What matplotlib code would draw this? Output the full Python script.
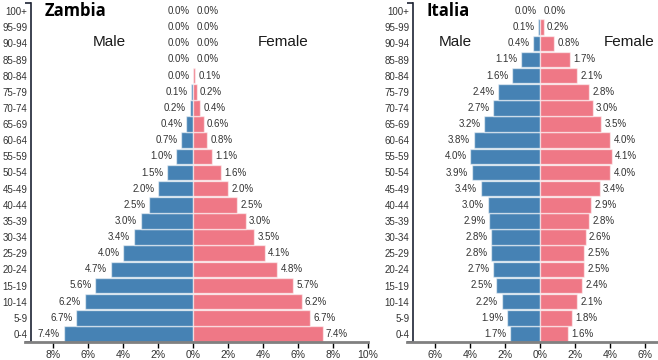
import matplotlib.pyplot as plt
import numpy as np

# age groups, bottom to top
ages = ['0-4', '5-9', '10-14', '15-19', '20-24', '25-29', '30-34', '35-39',
        '40-44', '45-49', '50-54', '55-59', '60-64', '65-69', '70-74',
        '75-79', '80-84', '85-89', '90-94', '95-99', '100+']

# Zambia, % of population
zambia_male = [7.4, 6.7, 6.2, 5.6, 4.7, 4.0, 3.4, 3.0, 2.5, 2.0, 1.5,
               1.0, 0.7, 0.4, 0.2, 0.1, 0.0, 0.0, 0.0, 0.0, 0.0]
zambia_female = [7.4, 6.7, 6.2, 5.7, 4.8, 4.1, 3.5, 3.0, 2.5, 2.0, 1.6,
                 1.1, 0.8, 0.6, 0.4, 0.2, 0.1, 0.0, 0.0, 0.0, 0.0]

# Italia, % of population
italia_male = [1.7, 1.9, 2.2, 2.5, 2.7, 2.8, 2.8, 2.9, 3.0, 3.4, 3.9,
               4.0, 3.8, 3.2, 2.7, 2.4, 1.6, 1.1, 0.4, 0.1, 0.0]
italia_female = [1.6, 1.8, 2.1, 2.4, 2.5, 2.5, 2.6, 2.8, 2.9, 3.4, 4.0,
                 4.1, 4.0, 3.5, 3.0, 2.8, 2.1, 1.7, 0.8, 0.2, 0.0]

zambia_ticks = [-8, -6, -4, -2, 0, 2, 4, 6, 8, 10]
italia_ticks = [-6, -4, -2, 0, 2, 4, 6]

BLUE = '#4682b4'
PINK = '#ef7886'
TXT = '#333333'

plt.rcParams['font.family'] = ['Liberation Sans', 'DejaVu Sans']

W, H = 658, 360
fig = plt.figure(figsize=(W / 100, H / 100), dpi=100)


def pyramid(ax, title, male, female, ticks, xlim, title_x, male_x, female_x):
    y = np.arange(len(ages))
    m = np.array(male)
    f = np.array(female)
    ax.barh(y, -m, height=0.96, color=BLUE, edgecolor=(1, 1, 1, 0.55), linewidth=1)
    ax.barh(y, f, height=0.96, color=PINK, edgecolor=(1, 1, 1, 0.55), linewidth=1)

    for yi, v in zip(y, m):
        ax.annotate('%.1f%%' % v, (-v, yi), xytext=(-2.5, 0), textcoords='offset points',
                    ha='right', va='center', fontsize=7, color=TXT)
    for yi, v in zip(y, f):
        ax.annotate('%.1f%%' % v, (v, yi), xytext=(2.5, 0), textcoords='offset points',
                    ha='left', va='center', fontsize=7, color=TXT)

    ax.set_xlim(*xlim)
    ax.set_ylim(-0.5, len(ages) - 0.5)
    ax.set_yticks(y)
    ax.set_yticklabels(ages)
    ax.set_yticks([-0.5, len(ages) - 0.5], minor=True)
    ax.tick_params(axis='y', which='major', length=0, pad=2.5, labelsize=7, labelcolor=TXT)
    ax.tick_params(axis='y', which='minor', length=4.5, width=1.2, color='#1c2233')
    ax.set_xticks(ticks)
    ax.set_xticklabels(['%d%%' % abs(t) for t in ticks])
    ax.tick_params(axis='x', length=4, width=1, color='black', pad=1.5,
                   labelsize=7.5, labelcolor=TXT)

    for s in ['top', 'right']:
        ax.spines[s].set_visible(False)
    ax.spines['left'].set_color('#1c2233')
    ax.spines['left'].set_linewidth(1.2)
    ax.spines['bottom'].set_color('#808080')
    ax.spines['bottom'].set_linewidth(2)
    ax.spines['bottom'].set_bounds(xlim[0] - 6 / 17.5, xlim[1])
    ax.set_facecolor('none')

    ax.text(title_x, 20, title, fontsize=12, fontweight='bold', color='black',
            ha='left', va='center', family=['Open Sans', 'DejaVu Sans'])
    ax.text(male_x, 18.1, 'Male', fontsize=11, color='#1a1a1a', ha='center', va='center')
    ax.text(female_x, 18.1, 'Female', fontsize=11, color='#1a1a1a', ha='center', va='center')


# pixel layout: 1% = 17.5 px, plot area from y=3 to y=342
top, bottom = 3, 342
ax1 = fig.add_axes([31 / W, (H - bottom) / H, 337 / W, (bottom - top) / H])
pyramid(ax1, 'Zambia', zambia_male, zambia_female, zambia_ticks,
        (-162 / 17.5, 10.0), -8.46, -4.77, 5.17)

ax2 = fig.add_axes([413 / W, (H - bottom) / H, 245 / W, (bottom - top) / H])
pyramid(ax2, 'Italia', italia_male, italia_female, italia_ticks,
        (-127 / 17.5, 118 / 17.5), -6.51, -4.86, 5.11)

fig.savefig('out.png', dpi=100)
